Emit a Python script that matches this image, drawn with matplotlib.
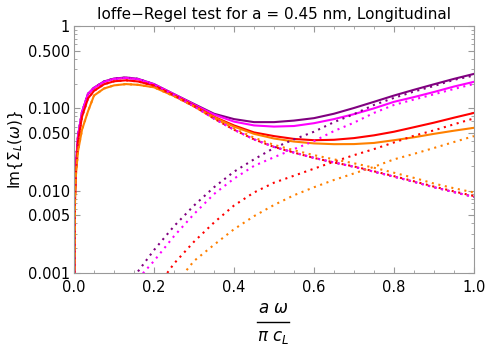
import numpy as np
import matplotlib
matplotlib.use("Agg")
import matplotlib.pyplot as plt
from matplotlib.lines import Line2D
from matplotlib.ticker import FixedLocator, FixedFormatter, LogLocator, NullFormatter

# frequency grid (a*omega / (pi*c_L)) for the full and the disorder parts
x_full = [0.001, 0.0025, 0.005, 0.01, 0.02, 0.035, 0.05, 0.075, 0.1, 0.13, 0.16,
          0.2, 0.25, 0.3, 0.35, 0.4, 0.45, 0.5, 0.55, 0.6, 0.65, 0.7, 0.75,
          0.8, 0.85, 0.9, 0.95, 1.0]
# grid for the rising (anharmonic) part
x_rise = [0.15, 0.2, 0.25, 0.3, 0.35, 0.4, 0.45, 0.5, 0.55, 0.6, 0.65, 0.7,
          0.75, 0.8, 0.85, 0.9, 0.95, 1.0]

# total Im{Sigma_L}
total_purple = [0.001, 0.0095, 0.021, 0.046, 0.09, 0.15, 0.178, 0.212, 0.23, 0.237, 0.228,
                0.197, 0.149, 0.113, 0.086, 0.074, 0.068, 0.068, 0.071, 0.076, 0.086, 0.101, 0.12,
                0.143, 0.168, 0.196, 0.228, 0.262]
total_magenta = [0.001, 0.0093, 0.021, 0.046, 0.09, 0.15, 0.177, 0.21, 0.228, 0.234, 0.226,
                 0.196, 0.148, 0.111, 0.084, 0.069, 0.062, 0.06, 0.061, 0.066, 0.074, 0.085, 0.1,
                 0.12, 0.137, 0.158, 0.184, 0.21]
total_red = [0.001, 0.0085, 0.018, 0.04, 0.079, 0.132, 0.163, 0.196, 0.213, 0.219, 0.212,
             0.189, 0.144, 0.108, 0.079, 0.062, 0.051, 0.046, 0.0425, 0.041, 0.0415, 0.0435, 0.047,
             0.052, 0.059, 0.067, 0.077, 0.088]
total_orange = [0.0008, 0.0075, 0.016, 0.03, 0.055, 0.092, 0.143, 0.174, 0.19, 0.197, 0.193,
                0.18, 0.141, 0.106, 0.078, 0.06, 0.049, 0.043, 0.0395, 0.0375, 0.0367, 0.0368, 0.038,
                0.041, 0.0445, 0.049, 0.0535, 0.058]

# decreasing (disorder) part
dis_purple = [0.001, 0.0095, 0.021, 0.046, 0.09, 0.15, 0.178, 0.212, 0.23, 0.237, 0.228,
              0.195, 0.145, 0.106, 0.075, 0.055, 0.042, 0.034, 0.029, 0.025, 0.022, 0.0195, 0.017,
              0.0148, 0.0128, 0.011, 0.0096, 0.0084]
dis_magenta = [0.001, 0.0093, 0.021, 0.046, 0.09, 0.15, 0.177, 0.21, 0.228, 0.234, 0.226,
               0.195, 0.145, 0.106, 0.075, 0.055, 0.042, 0.034, 0.029, 0.025, 0.022, 0.0195, 0.017,
               0.0148, 0.0128, 0.011, 0.0096, 0.0084]
dis_red = [0.001, 0.0085, 0.018, 0.04, 0.079, 0.132, 0.163, 0.196, 0.213, 0.219, 0.212,
           0.188, 0.143, 0.106, 0.075, 0.055, 0.042, 0.034, 0.029, 0.025, 0.022, 0.0197, 0.0172,
           0.015, 0.013, 0.0112, 0.0098, 0.0086]
dis_orange = [0.0008, 0.0075, 0.016, 0.03, 0.055, 0.092, 0.143, 0.174, 0.19, 0.197, 0.193,
              0.18, 0.14, 0.105, 0.076, 0.057, 0.044, 0.036, 0.031, 0.027, 0.024, 0.0215, 0.019,
              0.0165, 0.0143, 0.0122, 0.0107, 0.0095]

# rising (anharmonic) part
rise_purple = [0.0009, 0.0019, 0.0037, 0.0066, 0.011, 0.017, 0.024, 0.033, 0.042, 0.052,
               0.068, 0.085, 0.11, 0.134, 0.16, 0.187, 0.222, 0.25]
rise_magenta = [0.00075, 0.0014, 0.0028, 0.0052, 0.0091, 0.014, 0.02, 0.0255, 0.032, 0.04,
                0.053, 0.067, 0.088, 0.11, 0.128, 0.148, 0.172, 0.198]
rise_red = [0.0002, 0.0006, 0.0013, 0.0024, 0.0041, 0.0066, 0.0095, 0.0125, 0.0152, 0.0185,
            0.0225, 0.027, 0.032, 0.0385, 0.0465, 0.054, 0.064, 0.0755]
rise_orange = [0.0001, 0.0003, 0.0007, 0.0014, 0.0022, 0.0034, 0.0049, 0.0067, 0.0088, 0.011,
               0.0135, 0.0162, 0.0195, 0.024, 0.028, 0.033, 0.039, 0.046]

x_ticks = [0, 0.2, 0.4, 0.6, 0.8, 1.0]
x_tick_labels = ["0.0", "0.2", "0.4", "0.6", "0.8", "1.0"]
y_ticks = [0.001, 0.005, 0.01, 0.05, 0.1, 0.5, 1]
y_tick_labels = ["0.001", "0.005", "0.010", "0.050", "0.100", "0.500", "1"]

colors = ["#800080", "#ff00ff", "#ff0000", "#ff8000"]
totals = [total_purple, total_magenta, total_red, total_orange]
dis = [dis_purple, dis_magenta, dis_red, dis_orange]
rise = [rise_purple, rise_magenta, rise_red, rise_orange]

fig = plt.figure(figsize=(4.88, 3.48), dpi=100)
ax = fig.add_axes([74 / 488, 1 - 273 / 348, 400 / 488, 247 / 348])

dot = (0, (1, 2.2))
for c, tot in zip(colors, totals):
    ax.plot(x_full, tot, color=c, lw=1.5, solid_joinstyle="round")
for c, d, r in zip(colors, dis, rise):
    ax.plot(x_full, d, color=c, lw=1.5, linestyle=dot, dash_capstyle="butt")
    ax.plot(x_rise, r, color=c, lw=1.5, linestyle=dot, dash_capstyle="butt")

ax.set_yscale("log")
ax.set_xlim(0, 1)
ax.set_ylim(0.001, 1)

ax.xaxis.set_major_locator(FixedLocator(x_ticks))
ax.xaxis.set_major_formatter(FixedFormatter(x_tick_labels))
ax.xaxis.set_minor_locator(FixedLocator(np.arange(0, 1.001, 0.05)))
ax.yaxis.set_major_locator(FixedLocator(y_ticks))
ax.yaxis.set_major_formatter(FixedFormatter(y_tick_labels))
ax.yaxis.set_minor_locator(LogLocator(base=10, subs=np.arange(2, 10)))
ax.yaxis.set_minor_formatter(NullFormatter())

frame_col = "#999999"
for s in ax.spines.values():
    s.set_color(frame_col)
    s.set_linewidth(0.8)
ax.tick_params(which="both", direction="in", top=True, right=True, color=frame_col,
               labelsize=10.5, labelcolor="black")
ax.tick_params(which="major", length=4.5, width=0.8)
ax.tick_params(which="minor", length=2.5, width=0.6)
ax.tick_params(axis="x", pad=5)
ax.tick_params(axis="y", pad=3)

ax.set_title("Ioffe\u2212Regel test for a = 0.45 nm, Longitudinal", fontsize=11, pad=5)
ax.set_ylabel(r"Im$\{\Sigma_L(\omega)\}$", fontsize=11, labelpad=2)

# x label drawn as a stacked fraction
xc = 273 / 488
fig.text(xc, 1 - 308 / 348, r"$a\ \omega$", ha="center", va="center", fontsize=12)
fig.add_artist(Line2D([257 / 488, 289 / 488], [1 - 322 / 348, 1 - 322 / 348],
                      color="black", lw=1.0))
fig.text(xc, 1 - 337 / 348, r"$\pi\ c_L$", ha="center", va="center", fontsize=12)

fig.savefig("out.png", dpi=100)
